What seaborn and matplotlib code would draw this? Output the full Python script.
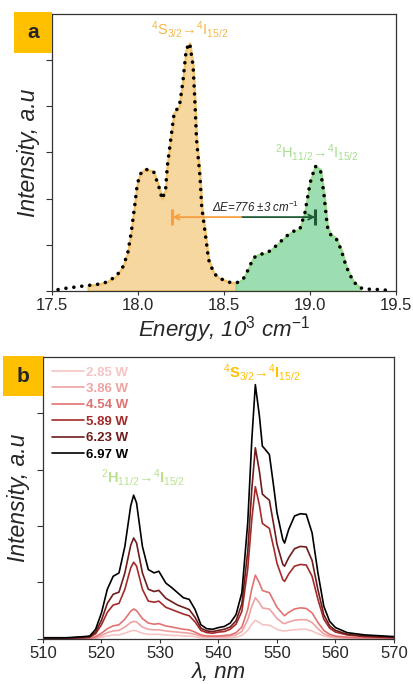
import seaborn as sns
import matplotlib.pyplot as plt
import pandas as pd
import numpy as np

# panel a: emission spectrum on energy scale (10^3 cm^-1)
energy = [17.535, 17.583, 17.667, 17.71, 17.76, 17.816, 17.874, 17.913, 17.94, 17.96,
          17.98, 17.994, 18.01, 18.04, 18.09, 18.12, 18.14, 18.16, 18.17, 18.19,
          18.21, 18.24, 18.26, 18.28, 18.30, 18.32, 18.33, 18.34, 18.36, 18.37,
          18.39, 18.41, 18.44, 18.47, 18.53, 18.57, 18.61, 18.64, 18.67, 18.70,
          18.75, 18.80, 18.86, 18.90, 18.94, 18.97, 19.00, 19.03, 19.06, 19.08,
          19.10, 19.12, 19.15, 19.18, 19.21, 19.25, 19.29, 19.33, 19.41, 19.46]
intensity_a = [0.03, 0.06, 0.10, 0.12, 0.14, 0.19, 0.32, 0.53, 0.82, 1.26,
               1.83, 2.27, 2.52, 2.64, 2.59, 2.27, 1.99, 2.19, 2.70, 3.28,
               3.86, 4.00, 4.51, 5.23, 5.37, 4.87, 4.14, 3.28, 2.48, 1.83,
               1.26, 0.68, 0.39, 0.28, 0.19, 0.17, 0.25, 0.46, 0.71, 0.79,
               0.82, 0.97, 1.18, 1.29, 1.33, 1.69, 2.34, 2.70, 2.63, 2.12,
               1.40, 1.22, 1.15, 0.90, 0.53, 0.21, 0.07, 0.04, 0.03, 0.01]
s_band = (17.71, 18.57)   # 4S3/2 -> 4I15/2
h_band = (18.57, 19.29)   # 2H11/2 -> 4I15/2
delta_e = (18.20, 18.60, 19.03)
delta_e_y = 1.6

# panel b: spectra vs wavelength for several pump powers
wavelength = [510, 514, 517, 518, 519, 520, 521, 522, 523, 524, 525, 525.5, 526, 527, 528,
              529, 529.8, 531, 532, 533, 534, 535, 536, 537, 538, 539, 540, 541, 542, 543,
              544, 545, 545.7, 546.3, 547, 547.5, 548, 548.7, 549.5, 550, 551, 551.3, 552,
              553, 554, 555, 556, 557, 558, 559, 560, 562, 565, 570]
p_285 = [0, 0, 0, 0.01, 0.01, 0.03, 0.05, 0.07, 0.07, 0.10, 0.14, 0.15, 0.14, 0.10, 0.08,
         0.08, 0.08, 0.07, 0.06, 0.06, 0.05, 0.05, 0.04, 0.02, 0.02, 0.02, 0.02, 0.02, 0.02, 0.03,
         0.06, 0.15, 0.26, 0.33, 0.29, 0.25, 0.25, 0.24, 0.20, 0.17, 0.14, 0.14, 0.15,
         0.16, 0.17, 0.17, 0.14, 0.09, 0.05, 0.03, 0.02, 0.01, 0.01, 0.0]
p_386 = [0, 0, 0.01, 0.01, 0.02, 0.06, 0.11, 0.14, 0.15, 0.21, 0.29, 0.31, 0.30, 0.21, 0.17,
         0.16, 0.16, 0.14, 0.13, 0.12, 0.11, 0.10, 0.08, 0.05, 0.04, 0.04, 0.04, 0.04, 0.05, 0.07,
         0.13, 0.34, 0.58, 0.73, 0.64, 0.55, 0.54, 0.53, 0.43, 0.36, 0.28, 0.27, 0.30,
         0.33, 0.34, 0.34, 0.29, 0.18, 0.09, 0.05, 0.03, 0.02, 0.01, 0.01]
p_454 = [0, 0, 0.01, 0.01, 0.04, 0.10, 0.18, 0.23, 0.25, 0.35, 0.49, 0.53, 0.50, 0.36, 0.28,
         0.26, 0.27, 0.23, 0.21, 0.19, 0.17, 0.16, 0.12, 0.07, 0.05, 0.05, 0.05, 0.06, 0.07, 0.11,
         0.21, 0.52, 0.89, 1.13, 0.99, 0.86, 0.84, 0.82, 0.66, 0.56, 0.44, 0.41, 0.47,
         0.53, 0.55, 0.54, 0.46, 0.29, 0.15, 0.08, 0.05, 0.03, 0.02, 0.01]
p_589 = [0.01, 0.01, 0.02, 0.03, 0.09, 0.25, 0.47, 0.60, 0.63, 0.88, 1.26, 1.36, 1.29, 0.88, 0.67,
         0.65, 0.67, 0.56, 0.52, 0.48, 0.44, 0.41, 0.30, 0.15, 0.11, 0.10, 0.12, 0.13, 0.17, 0.26,
         0.49, 1.24, 2.12, 2.70, 2.37, 2.05, 2.01, 1.96, 1.59, 1.34, 1.05, 1.02, 1.15,
         1.29, 1.32, 1.31, 1.11, 0.70, 0.35, 0.19, 0.12, 0.07, 0.04, 0.02]
p_623 = [0.01, 0.01, 0.03, 0.04, 0.12, 0.33, 0.63, 0.79, 0.83, 1.17, 1.66, 1.79, 1.70, 1.17, 0.88,
         0.84, 0.86, 0.72, 0.66, 0.60, 0.56, 0.52, 0.38, 0.19, 0.14, 0.13, 0.15, 0.17, 0.21, 0.32,
         0.62, 1.55, 2.66, 3.39, 2.97, 2.57, 2.52, 2.46, 1.99, 1.68, 1.32, 1.29, 1.44,
         1.60, 1.64, 1.63, 1.39, 0.87, 0.43, 0.23, 0.15, 0.08, 0.05, 0.03]
p_697 = [0.02, 0.02, 0.04, 0.05, 0.17, 0.46, 0.88, 1.11, 1.17, 1.64, 2.36, 2.55, 2.41, 1.64, 1.23,
         1.17, 1.20, 0.99, 0.91, 0.82, 0.73, 0.70, 0.52, 0.25, 0.18, 0.17, 0.20, 0.22, 0.28, 0.43,
         0.82, 2.06, 3.54, 4.51, 3.95, 3.42, 3.36, 3.27, 2.65, 2.24, 1.76, 1.70, 1.94,
         2.18, 2.22, 2.21, 1.88, 1.17, 0.58, 0.31, 0.20, 0.11, 0.07, 0.04]
powers = ['2.85 W', '3.86 W', '4.54 W', '5.89 W', '6.23 W', '6.97 W']
power_colors = ['#f6c4c4', '#f0a2a2', '#e27272', '#a52a2a', '#6e1c1c', '#000000']

# long-form table for seaborn
series = [p_285, p_386, p_454, p_589, p_623, p_697]
df_b = pd.concat([pd.DataFrame({'wl': wavelength, 'I': s, 'power': p})
                  for s, p in zip(series, powers)], ignore_index=True)

sns.set_style("ticks")
plt.rcParams['font.family'] = ['Liberation Sans', 'DejaVu Sans']
plt.rcParams['mathtext.fontset'] = 'custom'
plt.rcParams['mathtext.rm'] = 'Liberation Sans'
plt.rcParams['mathtext.it'] = 'Liberation Sans:italic'
plt.rcParams['mathtext.bf'] = 'Liberation Sans:bold'

fig = plt.figure(figsize=(4.13, 6.84), dpi=100)
ax_a = fig.add_axes([0.126, 0.5746, 0.833, 0.405])
ax_b = fig.add_axes([0.104, 0.066, 0.850, 0.412])

orange_fill, orange_edge = '#f7d7a0', '#f6c46a'
green_fill, green_edge = '#9cdeb2', '#95dc8e'

# ---- panel a ----
e = np.array(energy)
ia = np.array(intensity_a)
m_s = (e >= s_band[0]) & (e <= s_band[1])
m_h = (e >= h_band[0]) & (e <= h_band[1])
ax_a.fill_between(e[m_s], 0, ia[m_s], facecolor=orange_fill, edgecolor=orange_edge, lw=1.8, zorder=1)
ax_a.fill_between(e[m_h], 0, ia[m_h], facecolor=green_fill, edgecolor=green_edge, lw=1.8, zorder=1)
sns.lineplot(x=energy, y=intensity_a, ax=ax_a, color='black', lw=2.6,
             linestyle=(0, (0.01, 2.2)), dash_capstyle='round', zorder=3)

# delta E double arrow: orange half, dark green half
ax_a.annotate('', xy=(delta_e[2], delta_e_y), xytext=(delta_e[1], delta_e_y),
              arrowprops=dict(arrowstyle='->', color='#1f5a36', lw=1.3, mutation_scale=9,
                              shrinkA=0, shrinkB=0), zorder=4)
ax_a.annotate('', xy=(delta_e[0], delta_e_y), xytext=(delta_e[1], delta_e_y),
              arrowprops=dict(arrowstyle='->', color='#f7a040', lw=1.3, mutation_scale=9,
                              shrinkA=0, shrinkB=0), zorder=4)
ax_a.plot([delta_e[0]], [delta_e_y], marker='|', ms=12, mew=2.2, color='#f7a040', zorder=4)
ax_a.plot([delta_e[2]], [delta_e_y], marker='|', ms=12, mew=2.2, color='#1f5a36', zorder=4)
ax_a.text(18.68, 1.8, r'ΔE=776 ±3 cm$^{-1}$', fontsize=8.3, style='italic',
          color='#222222', ha='center', va='center')

ax_a.text(18.3, 5.67, r'$^4$S$_{3/2}$→$^4$I$_{15/2}$', color='#f5b84a', fontsize=10.5,
          ha='center', va='center')
ax_a.text(19.04, 3.0, r'$^2$H$_{11/2}$→$^4$I$_{15/2}$', color='#a6df8f', fontsize=10.5,
          ha='center', va='center')

ax_a.set_xlim(17.5, 19.5)
ax_a.set_ylim(0, 6)
ax_a.set_xticks([17.5, 18.0, 18.5, 19.0, 19.5])
ax_a.set_xticklabels(['17.5', '18.0', '18.5', '19.0', '19.5'])
ax_a.set_yticks(range(0, 7))
ax_a.set_yticklabels([])
ax_a.set_xlabel(r'Energy, 10$^3$ cm$^{-1}$', fontsize=16, style='italic', labelpad=1)
ax_a.set_ylabel('Intensity, a.u', fontsize=16.5, style='italic', labelpad=3)

# ---- panel b ----
sns.lineplot(data=df_b, x='wl', y='I', hue='power', hue_order=powers,
             palette=power_colors, ax=ax_b, lw=1.2)
ax_b.set_xlim(510, 570)
ax_b.set_ylim(0, 5)
ax_b.set_xticks(range(510, 571, 10))
ax_b.set_yticks(range(0, 6))
ax_b.set_yticklabels([])
ax_b.set_xlabel('λ, nm', fontsize=16, style='italic', labelpad=1)
ax_b.set_ylabel('Intensity, a.u', fontsize=16.5, style='italic', labelpad=3)

ax_b.text(547.3, 4.72, r'$^4$S$_{3/2}$→$^4$I$_{15/2}$', color='#ffc000', fontsize=10.5,
          fontweight='bold', ha='center', va='center')
ax_b.text(527.1, 2.86, r'$^2$H$_{11/2}$→$^4$I$_{15/2}$', color='#b8e38c', fontsize=10.5,
          fontweight='bold', ha='center', va='center')

leg = ax_b.legend(loc='upper left', frameon=False, labelcolor='linecolor',
                  prop={'weight': 'bold', 'size': 9.5}, handlelength=2.4,
                  handletextpad=0.15, labelspacing=0.32, borderaxespad=0.3,
                  bbox_to_anchor=(0.0, 1.0))

for ax in (ax_a, ax_b):
    for sp in ax.spines.values():
        sp.set_color('#333333')
        sp.set_linewidth(0.9)
    ax.tick_params(axis='both', direction='out', length=3, width=0.8, color='#333333',
                   labelsize=12, pad=2)
    ax.tick_params(axis='y', length=4)

# panel letters
for pos, letter in (([0.034, 0.9225, 0.092, 0.06], 'a'), ([0.007, 0.421, 0.097, 0.058], 'b')):
    lab = fig.add_axes(pos)
    lab.set_facecolor('#ffc000')
    lab.set_xticks([])
    lab.set_yticks([])
    for sp in lab.spines.values():
        sp.set_visible(False)
    lab.text(0.5, 0.5, letter, fontsize=15, fontweight='bold', ha='center', va='center',
             transform=lab.transAxes)

plt.savefig('out.png', dpi=100)
